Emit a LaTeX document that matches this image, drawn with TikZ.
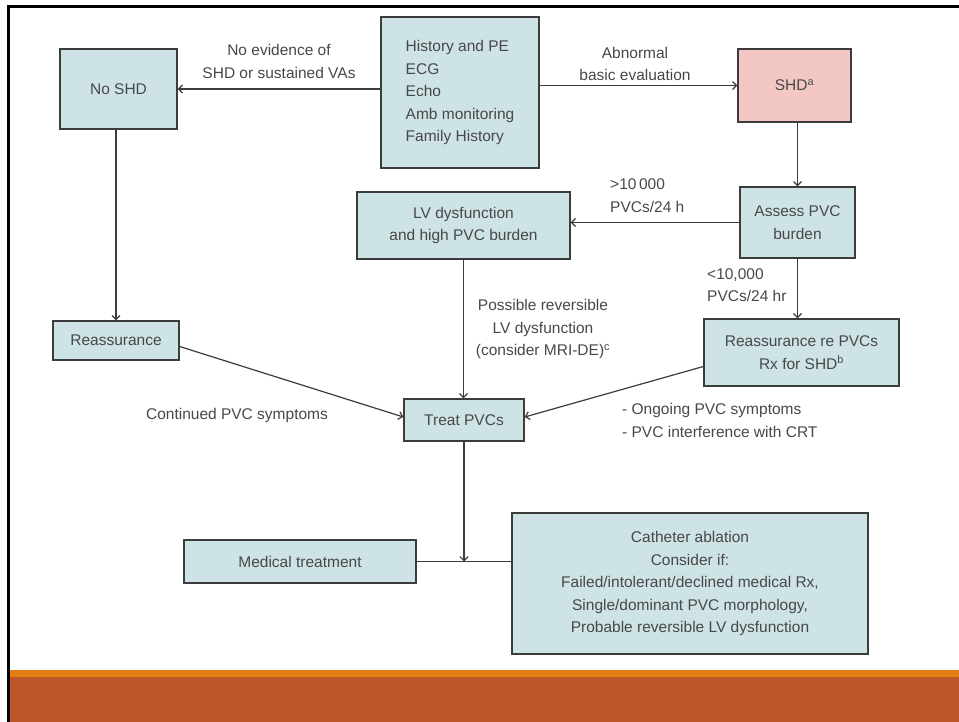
\documentclass[tikz,border=0pt]{standalone}
\usepackage{fontspec}
\setmainfont{Liberation Sans}
\usetikzlibrary{arrows.meta,calc}
\definecolor{boxC}{RGB}{206,227,229}
\definecolor{pinkC}{RGB}{243,199,196}
\definecolor{lineC}{RGB}{60,60,60}
\definecolor{txtC}{RGB}{72,72,72}
\definecolor{orangeC}{RGB}{226,126,18}
\definecolor{brownC}{RGB}{189,87,41}
\begin{document}
\begin{tikzpicture}[x=1pt,y=-1pt,
  every node/.style={font=\fontsize{15.5}{22.5}\selectfont, text=txtC},
  flowbox/.style={draw=lineC, fill=boxC, line width=1.3pt, inner sep=0pt, align=center},
  lbl/.style={inner sep=0pt, align=center},
  arr/.style={draw=lineC, line width=1.2pt, -{Straight Barb[length=4pt,width=8pt]}},
  conn/.style={draw=lineC, line width=1.2pt}]
\useasboundingbox (0,0) rectangle (959,722);
\fill[white] (0,0) rectangle (959,722);
% frame and footer
\fill[orangeC] (10,670) rectangle (959,677);
\fill[brownC] (10,677) rectangle (959,722);
\draw[black, line width=2.8pt] (8.5,722) -- (8.5,6.5) -- (959,6.5);
% boxes
\node[flowbox, minimum width=158pt, minimum height=151pt] (hist) at (460,92.5)
  {\begin{tabular}{@{}l@{}}History and PE\\ECG\\Echo\\Amb monitoring\\Family History\end{tabular}};
\node[flowbox, minimum width=117pt, minimum height=80pt] (noshd) at (118.5,89) {No SHD};
\node[flowbox, fill=pinkC, minimum width=113pt, minimum height=73pt] (shd) at (794.5,85.5) {SHD$^{\mathrm{a}}$};
\node[flowbox, minimum width=115pt, minimum height=71pt] (assess) at (797.5,222.5) {Assess PVC\\burden};
\node[flowbox, minimum width=213pt, minimum height=67pt] (lv) at (463.5,225.5) {LV dysfunction\\and high PVC burden};
\node[flowbox, minimum width=195pt, minimum height=67pt] (reapvc) at (801.5,352.5) {Reassurance re PVCs\\Rx for SHD$^{\mathrm{b}}$};
\node[flowbox, minimum width=126pt, minimum height=39pt] (reas) at (116,340.5) {Reassurance};
\node[flowbox, minimum width=120pt, minimum height=42pt] (treat) at (464,420) {Treat PVCs};
\node[flowbox, minimum width=232pt, minimum height=43pt] (med) at (300,561.5) {Medical treatment};
\node[flowbox, minimum width=356pt, minimum height=141pt] (cath) at (690,583.5)
  {Catheter ablation\\Consider if:\\Failed/intolerant/declined medical Rx,\\Single/dominant PVC morphology,\\Probable reversible LV dysfunction};
% connectors
\draw[arr] (hist.west |- noshd.east) -- (noshd.east);
\draw[arr] (hist.east |- shd.west) -- (shd.west);
\draw[arr] (assess.north |- shd.south) -- (assess.north);
\draw[arr] (assess.west) -- (assess.west -| lv.east);
\draw[arr] (assess.south) -- (assess.south |- reapvc.north);
\draw[arr] (reas.north |- noshd.south) -- (reas.north);
\draw[arr] ($(reas.east)+(0,6)$) -- ($(treat.west)+(0,-3)$);
\draw[arr] (lv.south) -- (lv.south |- treat.north);
\draw[arr] ($(reapvc.west)+(0,14)$) -- ($(treat.east)+(0,-3)$);
\coordinate (jn) at (treat.south |- med.east);
\draw[conn] (med.east) -- (cath.west |- med.east);
\draw[arr] (treat.south) -- (jn);
% labels
\node[lbl] (l1) at (279,61.5) {No evidence of\\SHD or sustained VAs};
\node[lbl] (l2) at (635,64) {Abnormal\\basic evaluation};
\node[lbl, anchor=west, align=left] (l3) at (610,195.5) {>10\,000\\PVCs/24 h};
\node[lbl, anchor=west, align=left] (l4) at (707,285) {<10,000\\PVCs/24 hr};
\node[lbl] (l5) at (543,329) {Possible reversible\\LV dysfunction\\(consider MRI-DE)$^{\mathrm{c}}$};
\node[lbl] (l6) at (237,415) {Continued PVC symptoms};
\node[lbl, anchor=west, align=left] (l7) at (622,420.5) {- Ongoing PVC symptoms\\- PVC interference with CRT};
\end{tikzpicture}
\end{document}
